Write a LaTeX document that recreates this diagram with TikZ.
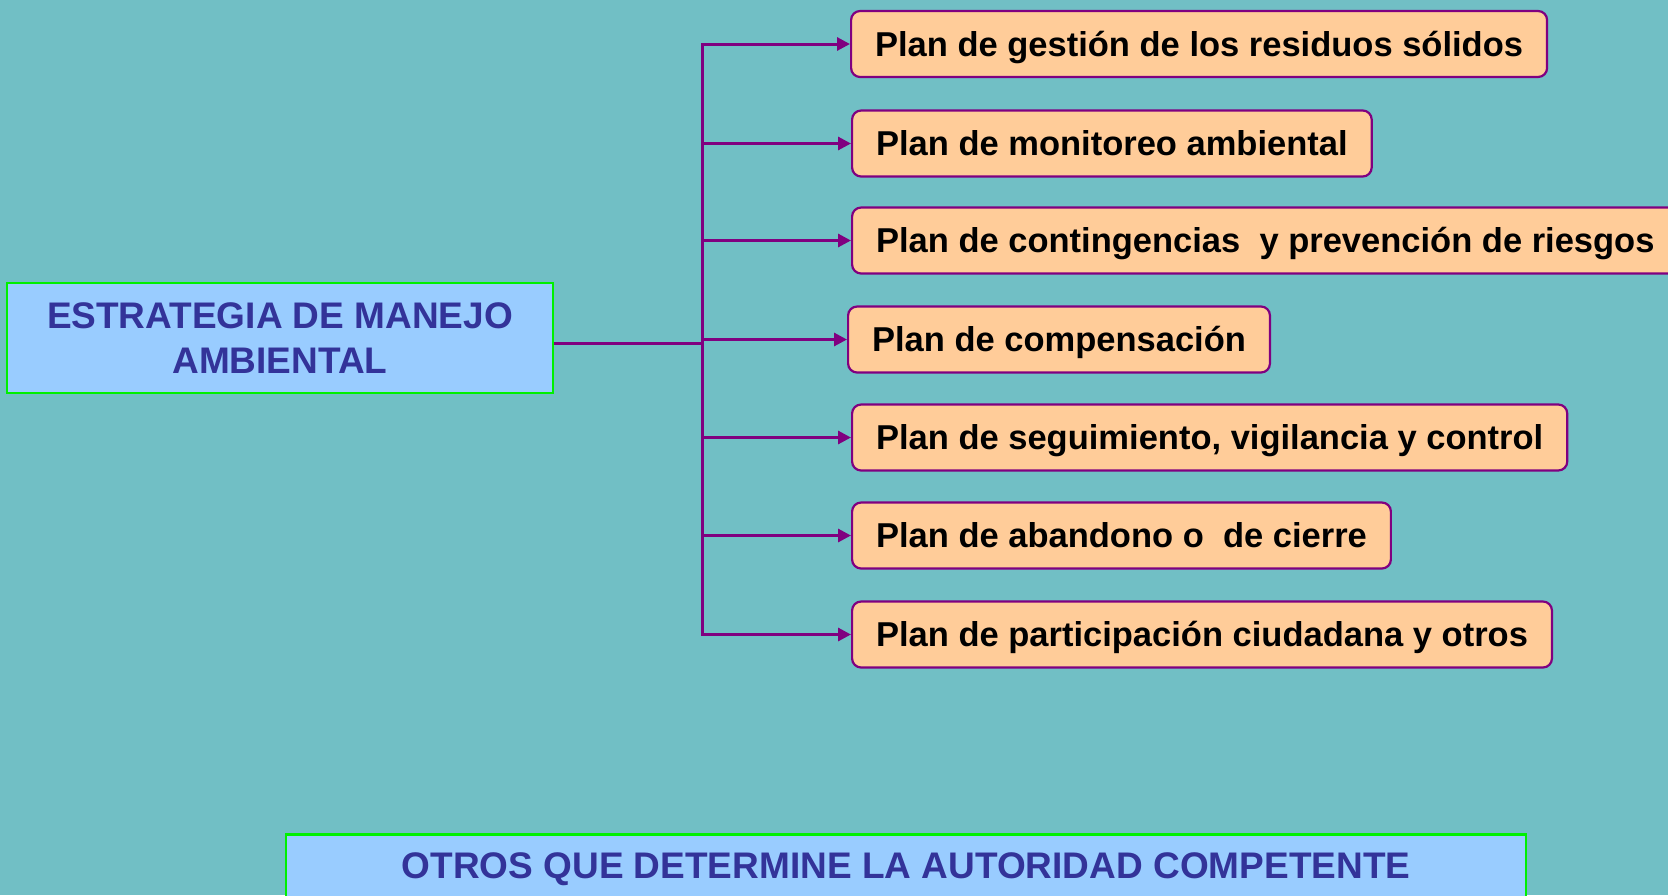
\documentclass[tikz,border=0pt]{standalone}
\usepackage{fontspec}
\setmainfont{Liberation Sans}
\usetikzlibrary{arrows.meta}
\definecolor{bgc}{HTML}{71BFC5}
\definecolor{peach}{HTML}{FFCC99}
\definecolor{purp}{HTML}{800080}
\definecolor{lblue}{HTML}{99CCFF}
\definecolor{dblue}{HTML}{333399}
\definecolor{grn}{HTML}{00F000}
\tikzset{
  planbox/.style={draw=purp, line width=2.2pt, fill=peach, rounded corners=9pt,
    anchor=west, minimum height=66pt, inner xsep=24pt, inner ysep=0pt,
    text height=24.7pt, text depth=0pt,
    font=\fontsize{34.5}{40}\selectfont\bfseries, text=black},
  bluebox/.style={draw=grn, line width=2.5pt, fill=lblue, inner sep=0pt,
    text=dblue, font=\fontsize{37}{45}\selectfont\bfseries, align=center},
  arr/.style={draw=purp, line width=3pt, -{Triangle[length=13pt,width=13pt]}},
  ln/.style={draw=purp, line width=3pt}
}
\begin{document}
\begin{tikzpicture}[x=1pt,y=-1pt]
\fill[bgc] (0,0) rectangle (1668,895);
\useasboundingbox (0,0) rectangle (1668,895);
\node[bluebox, minimum width=546pt, minimum height=110pt] (L) at (280,338)
  {ESTRATEGIA DE MANEJO\\AMBIENTAL};
\node[planbox] (b1) at (850,44) {Plan de gestión de los residuos sólidos};
\node[planbox] (b2) at (851,143.5) {Plan de monitoreo ambiental};
\node[planbox] (b3) at (851,240.5) {Plan de contingencias\ \ y prevención de riesgos};
\node[planbox] (b4) at (847,339.5) {Plan de compensación};
\node[planbox] (b5) at (851,437.5) {Plan de seguimiento, vigilancia y control};
\node[planbox] (b6) at (851,535.5) {Plan de abandono o\ \ de cierre};
\node[planbox] (b7) at (851,634.5) {Plan de participación ciudadana y otros};
\node[bluebox, minimum width=1240pt, minimum height=130pt, anchor=north] (B) at (906,833) {};
\node[text=dblue, font=\fontsize{37}{45}\selectfont\bfseries] (Bt) at (906,869)
  {OTROS QUE DETERMINE LA AUTORIDAD COMPETENTE};
\coordinate (sp) at (702,343);
\draw[ln] (sp -| L.east) -- (sp);
\foreach \b in {b1,b2,b3,b4,b5,b6,b7}{
  \draw[arr] (sp) |- (\b.west);
}
\end{tikzpicture}
\end{document}
